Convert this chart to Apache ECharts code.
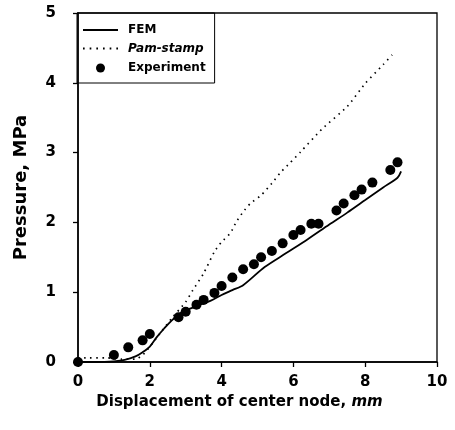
<!DOCTYPE html>
<html>
<head>
<meta charset="utf-8">
<script src="https://cdn.jsdelivr.net/npm/echarts@6/dist/echarts.min.js"></script>
<style>
  html, body { margin: 0; padding: 0; background: #fff; }
  #chart { width: 455px; height: 430px; }
</style>
</head>
<body>
<div id="chart"></div>
<script>
// FEM prediction (solid line)
const femX = [0, 0.5, 1.0, 1.3, 1.6, 1.8, 2.0, 2.2, 2.4, 2.6, 2.85, 3.1, 3.4, 3.7, 4.0, 4.3, 4.6, 5.2, 5.8, 6.4, 7.0, 7.5, 8.0, 8.5, 8.9, 9.0];
const femY = [0, 0, 0.01, 0.03, 0.08, 0.14, 0.22, 0.36, 0.48, 0.59, 0.70, 0.76, 0.82, 0.88, 0.96, 1.03, 1.10, 1.36, 1.56, 1.76, 1.97, 2.14, 2.32, 2.50, 2.64, 2.73];

// Pam-stamp simulation (dotted line)
const pamX = [0, 0.3, 0.8, 1.2, 1.6, 1.8, 2.0, 2.3, 2.6, 3.0, 3.2, 3.5, 3.8, 4.0, 4.25, 4.4, 4.6, 4.8, 5.1, 5.4, 5.65, 5.9, 6.2, 6.8, 7.5, 8.0, 8.5, 8.75];
const pamY = [0.06, 0.06, 0.06, 0.04, 0.04, 0.10, 0.22, 0.42, 0.62, 0.86, 1.03, 1.27, 1.58, 1.72, 1.85, 2.00, 2.15, 2.27, 2.39, 2.56, 2.72, 2.85, 3.01, 3.34, 3.66, 3.99, 4.26, 4.40];

// Measured pressure (filled circles)
const expX = [0, 1.0, 1.4, 1.8, 2.0, 2.8, 3.0, 3.3, 3.5, 3.8, 4.0, 4.3, 4.6, 4.9, 5.1, 5.4, 5.7, 6.0, 6.2, 6.5, 6.7, 7.2, 7.4, 7.7, 7.9, 8.2, 8.7, 8.9];
const expY = [0, 0.10, 0.21, 0.31, 0.40, 0.64, 0.72, 0.82, 0.89, 0.99, 1.09, 1.21, 1.33, 1.40, 1.50, 1.59, 1.70, 1.82, 1.89, 1.98, 1.98, 2.17, 2.27, 2.39, 2.47, 2.57, 2.75, 2.86];

const seriesNames = ['FEM', 'Pam-stamp', 'Experiment'];

const xTicks = { min: 0, max: 10, interval: 2 };
const yTicks = { min: 0, max: 5, interval: 1 };

const zip = (xs, ys) => xs.map((x, i) => [x, ys[i]]);

const FONT = 'DejaVu Sans';
const INK = '#000';

// Legend keys: a plain stroke for FEM, a row of dots for Pam-stamp,
// and a small disc (the move-to points pad its box to the item height)
const solidKey = 'path://M0,0h35v1.8h-35z';
const dottedKey = 'path://' + Array.from({ length: 6 }, (_, k) =>
  'M' + (k * 6.4).toFixed(1) + ',0h1.6v1.8h-1.6z').join('');
const discKey = 'path://M4.5,-2.5M4.5,11.5M0,4.5a4.5,4.5 0 1,0 9,0a4.5,4.5 0 1,0 -9,0z';

const chart = echarts.init(document.getElementById('chart'), null, { renderer: 'canvas' });

chart.setOption({
  backgroundColor: '#fff',
  animation: false,
  grid: {
    left: 78, right: 18, top: 13, bottom: 68,
    show: true, borderColor: INK, borderWidth: 1.3, backgroundColor: 'transparent'
  },
  legend: {
    orient: 'vertical',
    left: 77, top: 13,
    padding: [11, 9, 8, 6],
    itemGap: 6.5,
    itemWidth: 35, itemHeight: 14,
    borderColor: INK, borderWidth: 1,
    textStyle: { fontFamily: FONT, fontWeight: 'bold', fontSize: 12, color: INK, padding: [0, 0, 0, 5] },
    data: [
      { name: seriesNames[0], icon: solidKey },
      { name: seriesNames[1], icon: dottedKey, textStyle: { fontStyle: 'italic' } },
      { name: seriesNames[2], icon: discKey }
    ]
  },
  xAxis: {
    type: 'value',
    min: xTicks.min, max: xTicks.max, interval: xTicks.interval,
    name: 'Displacement of center node, {i|mm}',
    nameLocation: 'middle',
    nameGap: 33,
    nameTextStyle: {
      fontFamily: FONT, fontWeight: 'bold', fontSize: 15, color: INK,
      padding: [0, 36, 0, 0],
      rich: { i: { fontFamily: FONT, fontWeight: 'bold', fontStyle: 'italic', fontSize: 15, color: INK } }
    },
    axisLine: { show: true, lineStyle: { color: INK, width: 1.5 } },
    axisTick: { show: true, inside: false, length: 5, lineStyle: { color: INK, width: 1.3 } },
    axisLabel: { fontFamily: FONT, fontWeight: 'bold', fontSize: 15, color: INK, margin: 13 },
    splitLine: { show: false }
  },
  yAxis: {
    type: 'value',
    min: yTicks.min, max: yTicks.max, interval: yTicks.interval,
    name: 'Pressure, MPa',
    nameLocation: 'middle',
    nameRotate: 90,
    nameGap: 48,
    nameTextStyle: { fontFamily: FONT, fontWeight: 'bold', fontSize: 18, color: INK },
    axisLine: { show: true, lineStyle: { color: INK, width: 1.5 } },
    axisTick: { show: true, inside: false, length: 5, lineStyle: { color: INK, width: 1.3 } },
    axisLabel: { fontFamily: FONT, fontWeight: 'bold', fontSize: 15, color: INK, margin: 22 },
    splitLine: { show: false }
  },
  series: [
    {
      name: seriesNames[0],
      type: 'line',
      data: zip(femX, femY),
      smooth: 0.3,
      symbol: 'none',
      itemStyle: { color: INK },
      lineStyle: { color: INK, width: 1.8 },
      z: 3
    },
    {
      name: seriesNames[1],
      type: 'line',
      data: zip(pamX, pamY),
      smooth: 0.2,
      symbol: 'none',
      itemStyle: { color: INK },
      lineStyle: { color: INK, width: 1.7, type: [1.5, 4.6], cap: 'butt' },
      z: 2
    },
    {
      name: seriesNames[2],
      type: 'scatter',
      data: zip(expX, expY),
      symbol: 'circle',
      symbolSize: 10,
      itemStyle: { color: INK, opacity: 1 },
      z: 4
    }
  ]
});
</script>
</body>
</html>
